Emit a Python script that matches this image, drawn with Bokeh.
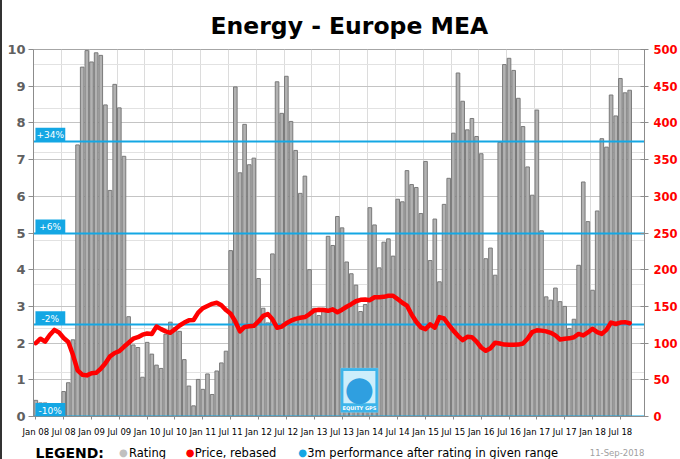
from bokeh.plotting import figure
from bokeh.layouts import column
from bokeh.models import Range1d, LinearAxis, FixedTicker, Label, BoxAnnotation, Grid
from bokeh.embed import file_html
from bokeh.resources import INLINE

# ---------------- data ----------------
x_labels = ["Jan 08", "Jul 08", "Jan 09", "Jul 09", "Jan 10", "Jul 10", "Jan 11", "Jul 11",
            "Jan 12", "Jul 12", "Jan 13", "Jul 13", "Jan 14", "Jul 14", "Jan 15", "Jul 15",
            "Jan 16", "Jul 16", "Jan 17", "Jul 17", "Jan 18", "Jul 18"]

rating = [0.44, 0.37, 0.37, 0.20, 0.15, 0.20, 0.68, 0.92, 2.09, 7.40,
          9.52, 9.97, 9.66, 9.91, 9.84, 8.49, 6.16, 9.05, 8.41, 7.09,
          2.72, 1.95, 1.88, 1.07, 2.02, 1.70, 1.40, 1.31, 2.24, 2.57,
          2.42, 2.32, 1.55, 0.83, 0.29, 1.01, 0.74, 1.16, 0.60, 1.24,
          1.46, 1.78, 4.52, 8.98, 6.64, 7.96, 6.86, 7.04, 3.76, 2.95,
          2.55, 4.43, 9.12, 8.26, 9.27, 8.04, 7.25, 6.08, 6.55, 4.00,
          2.95, 2.75, 2.95, 4.91, 4.66, 5.45, 5.14, 4.21, 3.89, 3.58,
          2.86, 3.05, 5.69, 5.22, 4.05, 4.75, 4.84, 4.37, 5.92, 5.85,
          6.70, 6.32, 6.24, 5.53, 6.95, 4.25, 5.38, 3.67, 5.78, 6.49,
          7.72, 9.36, 8.59, 7.81, 8.12, 7.63, 7.16, 4.30, 4.59, 3.85,
          7.47, 9.59, 9.76, 9.43, 8.67, 7.90, 6.80, 6.03, 8.35, 5.06,
          3.26, 3.17, 3.50, 3.13, 3.00, 2.40, 2.65, 4.12, 6.39, 5.31,
          3.44, 5.60, 7.57, 7.34, 8.76, 8.19, 9.21, 8.82, 8.89]

price = [100, 106, 102, 111, 118, 114.5, 107, 101.5, 84, 63,
         57, 56, 59, 59.5, 65, 72.5, 82, 86.5, 89, 95,
         100.5, 106, 108, 111.5, 113, 112.5, 122.5, 119, 116, 114,
         119, 124, 128, 131, 131.5, 141.5, 147.5, 150.5, 153.5, 155,
         151.5, 145, 140, 129.5, 116, 122, 123, 123.5, 129.5, 137,
         139.5, 132.5, 121, 122.5, 127, 130.5, 133, 134.5, 135.5, 139.5,
         144.5, 145.5, 145, 144, 146, 142, 145.5, 149.5, 153, 157,
         159, 159.5, 158.5, 162.5, 162.5, 163, 164.5, 164.5, 160, 155,
         151, 139, 129, 121.5, 119, 125.5, 121, 135.5, 133.5, 125,
         117, 110, 104, 108.5, 108, 102, 94, 89.5, 93, 100.5,
         99.5, 98, 97.7, 97.7, 98, 99.5, 106, 115, 117.5, 117,
         116, 114, 110.5, 105, 106, 106.5, 108, 112.5, 110.5, 114.5,
         119.5, 115, 112.5, 118, 128, 126, 128, 128.5, 127]

band_levels = [7.5, 5.0, 2.5, 0.0]
band_labels = ["+34%", "+6%", "-2%", "-10%"]

left_ticks = list(range(0, 11))
right_ticks = list(range(0, 501, 50))
minor_y = [1.2, 2.4, 3.6, 4.8, 7.2, 8.4, 9.6]

months = list(range(len(rating)))
tick_pos = months[::6]

# ---------------- style ----------------
BLUE = "#14a7e4"
RED = "#ff0000"
FONT = "DejaVu Sans"

p = figure(width=678, height=439, x_range=Range1d(-0.5, 131.2), y_range=Range1d(0, 10),
           output_backend="svg", toolbar_location=None,
           min_border_left=31, min_border_right=0, min_border_top=49, min_border_bottom=20)

p.title.text = "Energy - Europe MEA"
p.title.align = "left"
p.title.offset = 177
p.title.text_font = FONT
p.title.text_font_size = "23.5px"
p.title.text_font_style = "bold"
p.title.text_color = "#000000"
p.title.standoff = 19

p.outline_line_color = "#a6a6a6"
p.background_fill_color = "white"
p.border_fill_color = "white"

# grids
p.xgrid.ticker = FixedTicker(ticks=[t - 0.5 for t in tick_pos])
p.xgrid.grid_line_color = "#dcdcdc"
p.ygrid.ticker = FixedTicker(ticks=left_ticks)
p.ygrid.grid_line_color = "#c4c4c4"
p.add_layout(Grid(dimension=1, ticker=FixedTicker(ticks=minor_y), grid_line_color="#e2e2e2"))

# x axis
p.xaxis.ticker = FixedTicker(ticks=tick_pos)
p.xaxis.major_label_overrides = {t: lab for t, lab in zip(tick_pos, x_labels)}
p.xaxis.major_label_text_font = FONT
p.xaxis.major_label_text_font_size = "8.5px"
p.xaxis.major_label_text_color = "#000000"
p.xaxis.axis_line_color = "#8c8c8c"
p.xaxis.major_tick_line_color = "#8c8c8c"
p.xaxis.major_tick_out = 3
p.xaxis.major_tick_in = 0
p.xaxis.minor_tick_line_color = None
p.xaxis.major_label_standoff = 7

# left axis
p.yaxis.ticker = FixedTicker(ticks=left_ticks)
p.yaxis.major_label_text_font = FONT
p.yaxis.major_label_text_font_size = "13px"
p.yaxis.major_label_text_font_style = "bold"
p.yaxis.major_label_text_color = "#606060"
p.yaxis.axis_line_color = "#8c8c8c"
p.yaxis.major_tick_line_color = "#8c8c8c"
p.yaxis.major_tick_out = 5
p.yaxis.major_tick_in = 0
p.yaxis.minor_tick_line_color = None
p.yaxis.major_label_standoff = 3

# right axis
p.extra_y_ranges = {"price": Range1d(0, 500)}
ax_r = LinearAxis(y_range_name="price", ticker=FixedTicker(ticks=right_ticks))
ax_r.major_label_text_font = FONT
ax_r.major_label_text_font_size = "11.5px"
ax_r.major_label_text_font_style = "bold"
ax_r.major_label_text_color = RED
ax_r.axis_line_color = "#8c8c8c"
ax_r.major_tick_line_color = "#8c8c8c"
ax_r.major_tick_out = 4
ax_r.major_tick_in = 4
ax_r.minor_tick_line_color = None
ax_r.major_label_standoff = 5
p.add_layout(ax_r, "right")

# bars
p.vbar(x=months, top=rating, width=0.78, bottom=0,
       fill_color="#b2b2b2", line_color="#7a7a7a", line_width=1)

# performance band lines
p.hspan(y=band_levels, line_color=BLUE, line_width=2)

# price line
p.line(x=months, y=price, y_range_name="price", line_color=RED, line_width=4.5,
       line_join="round", line_cap="round")

# band label boxes
for lvl, lab in zip(band_levels, band_labels):
    p.add_layout(BoxAnnotation(left=-0.08, right=6.35, bottom=lvl, top=lvl + 0.37,
                               fill_color=BLUE, fill_alpha=1.0, line_color=None))
    p.add_layout(Label(x=3.1, y=lvl, text=lab, text_align="center", text_baseline="bottom",
                       y_offset=1, text_color="white", text_font=FONT, text_font_size="9px"))

# logo
p.add_layout(BoxAnnotation(left=65.7, right=73.8, bottom=0.11, top=1.32,
                           fill_color="#3cb4ea", fill_alpha=1.0, line_color="#8fd3f3", line_width=1))
p.add_layout(BoxAnnotation(left=66.3, right=73.2, bottom=0.36, top=1.24,
                           fill_color="#cdeefb", fill_alpha=1.0, line_color=None))
p.add_layout(Label(x=69.75, y=0.78, text="●", text_align="center", text_baseline="middle",
                   text_color="#2f9fe0", text_font=FONT, text_font_size="34px"))
p.add_layout(Label(x=69.75, y=0.14, text="EQUITY GPS", text_align="center", text_baseline="bottom",
                   text_color="white", text_font=FONT, text_font_size="5px", text_font_style="bold"))

# ---------------- legend strip ----------------
# the strip's frame is aligned with the main frame (page x 33 .. 647 px), so
# its range is set in page pixels
lg = figure(width=678, height=20, x_range=Range1d(33, 647), y_range=Range1d(0, 20),
            output_backend="svg", toolbar_location=None, min_border=0)
lg.axis.visible = False
lg.grid.visible = False
lg.outline_line_color = None
lg.background_fill_color = "white"
lg.border_fill_color = "white"

legend_items = [
    (35, "LEGEND:", "#000000", "14px", "bold"),
    (119, "●", "#c0c0c0", "10px", "normal"),
    (129, "Rating", "#000000", "11.5px", "normal"),
    (186, "●", RED, "10px", "normal"),
    (195, "Price, rebased", "#000000", "11.5px", "normal"),
    (299, "●", BLUE, "10px", "normal"),
    (308, "3m performance after rating in given range", "#000000", "11.5px", "normal"),
    (592, "11-Sep-2018", "#a0a0a0", "8.5px", "normal"),
]
for x, t, c, fs, st in legend_items:
    lg.add_layout(Label(x=x, y=7, text=t, text_color=c, text_font=FONT,
                        text_font_size=fs, text_font_style=st, text_baseline="middle"))

layout = column(p, lg, spacing=0, styles={"border-left": "2px solid #333333"})
open("out.html", "w").write(file_html(layout, INLINE))
